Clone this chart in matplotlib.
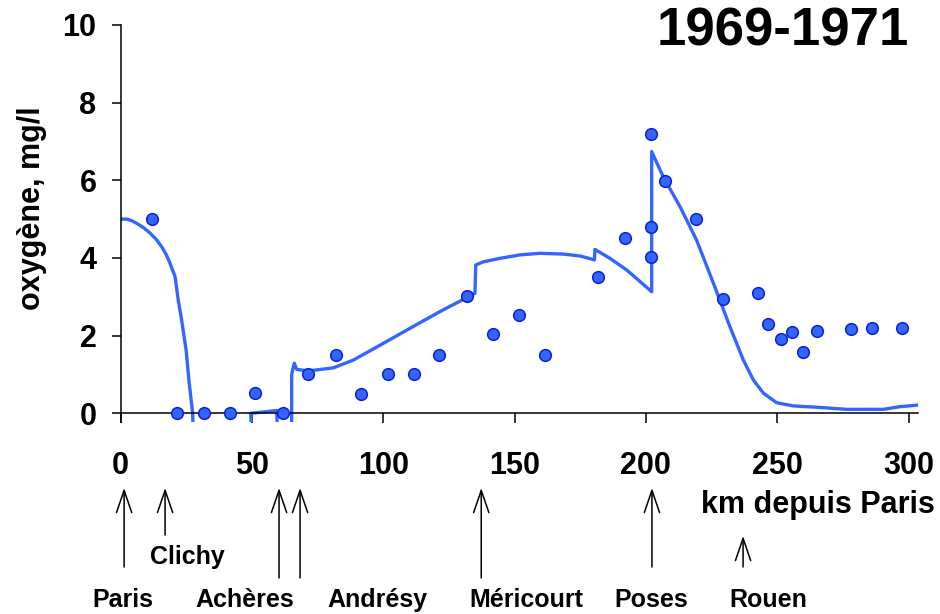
import matplotlib
matplotlib.use("Agg")
import matplotlib.pyplot as plt
from matplotlib.transforms import blended_transform_factory

plt.rcParams['font.family'] = ['Liberation Sans', 'DejaVu Sans']
plt.rcParams['font.weight'] = 'bold'

# Simulated dissolved oxygen along the Seine (km downstream of Paris)
model_km = [0, 2.3, 4.2, 6.1, 8.7, 11.2, 13.5, 15.6, 17.3, 18.8,
            20.7, 21.9, 23.2, 24.9, 26.1, 27.4, 27.8, 49.6, 49.6, 54,
            59.4, 60.0, 65.1, 65.1, 66.1, 67.0, 71.5, 81.0, 88.6, 100,
            110.2, 121.6, 131.8, 134.9, 135.2, 138.1, 144.4, 152.1, 159.7, 168.6,
            175, 180.4, 180.6, 186.3, 192.7, 197.8, 202.2, 202.2, 206.6, 213,
            219.3, 225.7, 232, 237.1, 240.9, 244.7, 249.8, 256.1, 266.3, 276.5,
            290.4, 296.8, 303.5]
model_o2 = [5.0, 5.0, 4.96, 4.89, 4.78, 4.64, 4.48, 4.29, 4.09, 3.86,
            3.52, 2.92, 2.40, 1.63, 0.77, 0.0, -1.0, -1.0, 0.0, 0.03,
            0.07, -1.0, -1.0, 1.0, 1.29, 1.13, 1.09, 1.17, 1.37, 1.80,
            2.19, 2.62, 2.98, 3.09, 3.82, 3.90, 3.99, 4.08, 4.12, 4.10,
            4.05, 3.95, 4.22, 3.99, 3.69, 3.39, 3.13, 6.74, 6.09, 5.32,
            4.46, 3.35, 2.23, 1.37, 0.86, 0.52, 0.27, 0.19, 0.15, 0.10,
            0.10, 0.17, 0.21]

# Measured oxygen, 1969-1971
obs_km = [11.8, 21.6, 31.8, 41.6, 51.3, 61.7, 71.5, 81.9, 91.6, 101.9,
          111.7, 121.3, 131.8, 141.7, 151.6, 161.7, 181.6, 192.0, 201.9, 201.9,
          201.9, 207.3, 219.0, 229.2, 242.6, 246.4, 251.3, 255.5, 259.7, 265.3,
          278.0, 286.0, 297.6]
obs_o2 = [5.0, 0.0, 0.0, 0.0, 0.52, 0.0, 1.0, 1.5, 0.5, 1.0,
          1.0, 1.5, 3.03, 2.04, 2.53, 1.5, 3.52, 4.51, 7.19, 4.79,
          4.02, 5.98, 5.0, 2.94, 3.11, 2.29, 1.91, 2.09, 1.59, 2.12,
          2.16, 2.20, 2.20]

x_ticks = [0, 50, 100, 150, 200, 250, 300]
y_ticks = [0, 2, 4, 6, 8, 10]

# Landmarks marked by arrows under the axis
arrow_km = [1.3, 16.9, 60.3, 68.3, 137.3, 202.3, 237.0]
arrow_tail_px = [567, 535, 578, 578, 578, 567, 567]
arrow_tip_px = [488, 488, 488, 488, 488, 488, 536]

place_names = ['Paris', 'Achères', 'Andrésy', 'Méricourt', 'Poses', 'Rouen']
place_km = [0.9, 47.3, 97.6, 154.3, 202.0, 246.5]
upper_name = 'Clichy'
upper_km = 25.2

W, H = 940, 614
fig = plt.figure(figsize=(W / 100, H / 100), dpi=100)
ax_left, ax_right = 120.7, 917.7
ax_top, ax_bottom = 25.0, 421.8
ax = fig.add_axes([ax_left / W, 1 - ax_bottom / H,
                   (ax_right - ax_left) / W, (ax_bottom - ax_top) / H])

blue = '#3366FF'
ax.plot(model_km, model_o2, color=blue, lw=2.4, zorder=2, solid_joinstyle='round')
ax.plot(obs_km, obs_o2, linestyle='none', marker='o', ms=8.4,
        mfc=blue, mec='#0A1FD6', mew=1.1, zorder=3, clip_on=False)

ax.set_xlim(0, 303.5)
ax.set_ylim(-0.22, 10)
ax.spines['top'].set_visible(False)
ax.spines['right'].set_visible(False)
ax.spines['bottom'].set_position(('data', 0))
for s in ('left', 'bottom'):
    ax.spines[s].set_linewidth(1.1)

ax.set_xticks(x_ticks)
ax.set_yticks(y_ticks)
ax.tick_params(axis='x', direction='out', length=7.5, width=1.1, pad=19.5,
               labelsize=22)
ax.tick_params(axis='y', direction='out', length=6.5, width=1.1, pad=11,
               labelsize=22)
for lab in ax.get_xticklabels() + ax.get_yticklabels():
    lab.set_fontweight('bold')

ax.set_ylabel('oxygène, mg/l', fontsize=22, fontweight='bold')
ax.yaxis.set_label_coords((32 - ax_left) / (ax_right - ax_left),
                          (ax_bottom - 208) / (ax_bottom - ax_top))
ax.yaxis.label.set_va('center')

fig.text(783 / W, 1 - 32 / H, '1969-1971', fontsize=38, fontweight='bold',
         ha='center', va='center')

# Annotations below the axis: x in km, y in figure pixels
trans = blended_transform_factory(ax.transData, fig.transFigure)


def fy(px):
    return 1 - px / H


for km, tail, tip in zip(arrow_km, arrow_tail_px, arrow_tip_px):
    ax.annotate('', xy=(km, fy(tip)), xycoords=trans,
                xytext=(km, fy(tail)), textcoords=trans,
                arrowprops=dict(arrowstyle='->,head_length=1.6,head_width=0.55',
                                mutation_scale=10, lw=1.1, color='black',
                                shrinkA=0, shrinkB=0),
                annotation_clip=False)

for name, km in zip(place_names, place_km):
    ax.text(km, fy(600), name, transform=trans, ha='center', va='center',
            fontsize=18, fontweight='bold', clip_on=False)
ax.text(upper_km, fy(557), upper_name, transform=trans, ha='center',
        va='center', fontsize=18, fontweight='bold', clip_on=False)

fig.text(935 / W, fy(505), 'km depuis Paris', ha='right', va='center',
         fontsize=22, fontweight='bold')

fig.savefig('out.png', dpi=100)
